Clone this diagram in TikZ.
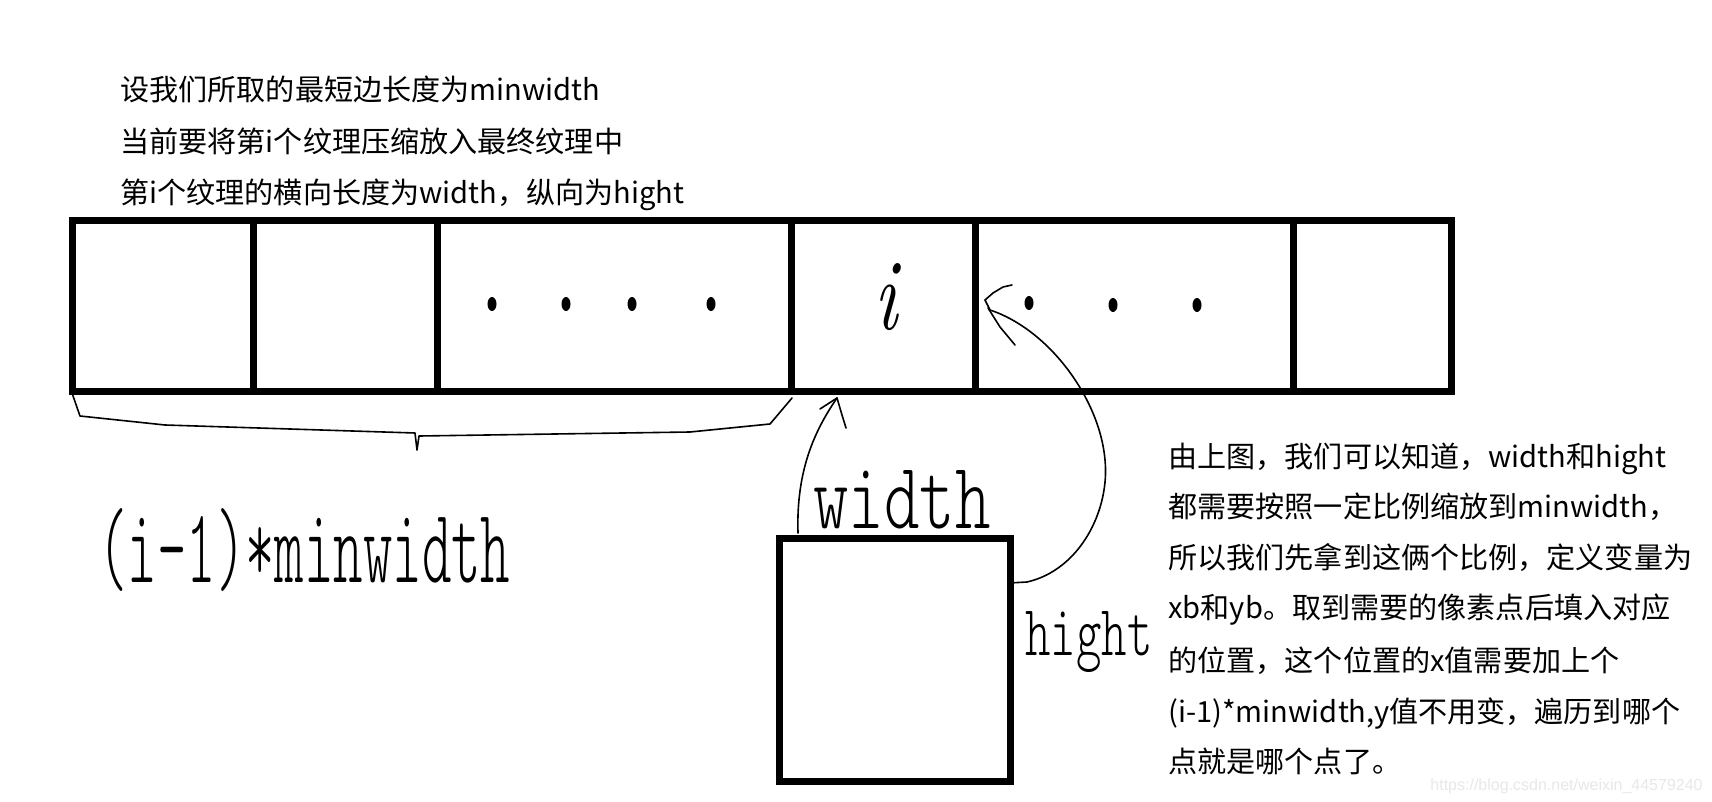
\documentclass[tikz,border=0pt]{standalone}
\usepackage{fontspec}
\usepackage{graphicx}
\newfontfamily\cjk{Noto Sans CJK SC}
\newfontfamily\wmfont{Liberation Sans}
\newfontfamily\handfont{Latin Modern Mono Light}
\begin{document}
\begin{tikzpicture}[x=0.5pt,y=-0.5pt,
  heavy/.style={line width=3.5pt},
  pen/.style={line width=0.8pt, line cap=round, line join=round},
  txt/.style={anchor=base west, inner sep=0pt, font=\cjk\fontsize{14.55pt}{18pt}\selectfont},
  hand/.style={anchor=base west, inner sep=0pt, font=\handfont},
  wm/.style={anchor=base east, inner sep=0pt, text=black!9, font=\wmfont\fontsize{8pt}{10pt}\selectfont}]
\fill[white] (0,0) rectangle (1712,802);
\useasboundingbox (0,0) rectangle (1712,802);

% intro text
\node[txt] (t1) at (120,101) {设我们所取的最短边长度为minwidth};
\node[txt] (t2) at (120,153) {当前要将第i个纹理压缩放入最终纹理中};
\node[txt] (t3) at (120,204) {第i个纹理的横向长度为width，纵向为hight};

% texture strip
\draw[heavy] (72,221) rectangle (1451,391);
\foreach \x in {253,437,791,975,1293} \draw[heavy] (\x,221) -- (\x,391);

% dots
\foreach \x/\y in {492/304,566/304,632/304,711/304,1029/303,1113/305,1197/305}
  \fill (\x,\y) ellipse [x radius=4.5, y radius=7];

% handwritten i
\node[anchor=base, inner sep=0pt] (ichar) at (886,329) {\resizebox{11.5pt}{33pt}{\itshape i}};

% brace under the strip
\draw[pen] (72,393) -- (80,416) -- (165,425) -- (415,433) -- (417,450) -- (419,436) -- (690,432) -- (770,424) -- (792,398);
\node[hand] (formula) at (98,582) {\resizebox{206pt}{37pt}{(i-1)*minwidth}};

% texture i box
\node[draw, heavy, minimum width=115.5pt, minimum height=121.25pt, inner sep=0pt, anchor=north west] (box) at (775.5,535) {};
\node[hand] (wlab) at (813,528) {\resizebox{88.5pt}{29pt}{width}};
\node[hand] (hlab) at (1025,655) {\resizebox{63.5pt}{22pt}{hight}};

% arrow 1 (width)
\coordinate (a1s) at (798,533);
\coordinate (a1t) at (837,398);
\draw[pen] (a1s) .. controls (796,470) and (815,430) .. (a1t);
\draw[pen] (a1t) -- (820,409);
\draw[pen] (a1t) -- (842,415) -- (846,428);

% arrow 2 (hight)
\coordinate (a2s) at (1009,583);
\coordinate (a2t) at (985,300);
\draw[pen] (a2s) -- (1027,582) .. controls (1080,570) and (1110,510) .. (1105,460)
  .. controls (1100,400) and (1050,330) .. (990,310) -- (a2t);
\draw[pen] (a2t) -- (993,293) -- (1003,287) -- (1012,285);
\draw[pen] (988,308) -- (1000,327) -- (1015,345);

% explanation text
\node[txt] (r1) at (1168,467) {由上图，我们可以知道，width和hight};
\node[txt] (r2) at (1168,517) {都需要按照一定比例缩放到minwidth，};
\node[txt] (r3) at (1168,568) {所以我们先拿到这俩个比例，定义变量为};
\node[txt] (r4) at (1168,618) {xb和yb。取到需要的像素点后填入对应};
\node[txt] (r5) at (1168,671) {的位置，这个位置的x值需要加上个};
\node[txt] (r6) at (1168,722) {(i-1)*minwidth,y值不用变，遍历到哪个};
\node[txt] (r7) at (1168,772) {点就是哪个点了。};

% watermark
\node[wm] (wmark) at (1703,790) {https://blog.csdn.net/weixin\_44579240};
\end{tikzpicture}
\end{document}
